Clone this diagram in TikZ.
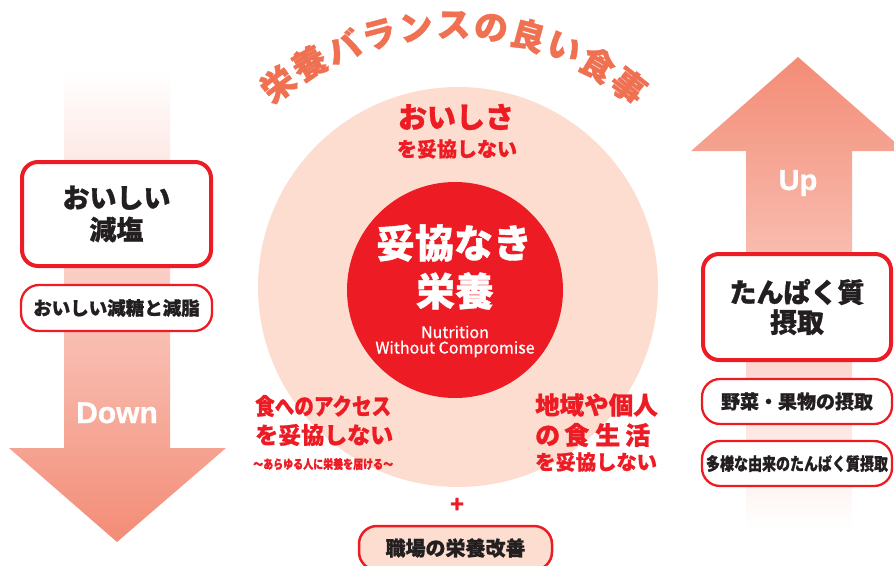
\documentclass[tikz,border=0pt]{standalone}
\usepackage{fontspec}
\usepackage{graphicx}
\newfontfamily\jp{Noto Sans CJK JP}[BoldFeatures={FakeBold=1}]
\newfontfamily\jpm{Noto Sans CJK JP}[FakeBold=0.8]
\newfontfamily\lat{Liberation Sans}[BoldFeatures={FakeBold=1}]
\definecolor{cred}{RGB}{237,28,36}
\definecolor{cpeach}{RGB}{252,221,207}
\definecolor{csalmon}{RGB}{243,140,118}
\definecolor{ctitle}{RGB}{240,112,82}
\definecolor{ctext}{RGB}{35,31,32}
\begin{document}
\begin{tikzpicture}[x=1pt,y=-1pt,
  bigbox/.style={draw=cred, line width=4pt, fill=white, rounded corners=16pt, minimum width=189pt, minimum height=104pt, inner sep=0pt, align=center, text=ctext, font=\jp\bfseries\fontsize{27}{32}\selectfont},
  smallbox/.style={draw=cred, line width=2.3pt, fill=white, rounded corners=18pt, minimum width=191pt, minimum height=46pt, inner sep=0pt, text=ctext, font=\jp\bfseries\fontsize{19}{22}\selectfont},
  titlech/.style={inner sep=0pt, text=ctitle, font=\jp\bfseries\fontsize{34}{34}\selectfont},
  redtxt/.style={inner sep=0pt, text=cred, font=\jp\bfseries},
  arrowtxt/.style={inner sep=0pt, text=white, font=\lat\bfseries\fontsize{30}{30}\selectfont, anchor=base},
  whitetxt/.style={inner sep=0pt, text=white}
]
\useasboundingbox (0,0) rectangle (894,565);
\clip (0,0) rectangle (894,565);

% arrows
\shade[top color=white, bottom color=csalmon]
  (64,70) -- (170,70) -- (170,448) -- (226,448) -- (117,542) -- (9,448) -- (64,448) -- cycle;
\shade[top color=csalmon, bottom color=white]
  (746,530) -- (852,530) -- (852,151) -- (905,151) -- (798,57) -- (691,151) -- (746,151) -- cycle;
\node[arrowtxt] (down) at (117,423) {Down};
\node[arrowtxt, font=\lat\bfseries\fontsize{29}{29}\selectfont] (up) at (798,190) {Up};

% circles
\node[circle, fill=cpeach, minimum size=400pt, inner sep=0pt] (bigc) at (458,287) {};
\node[circle, fill=cred, minimum size=216pt, inner sep=0pt] (core) at (455,290) {};

% title on arc
\foreach \ch [count=\i from 0] in {栄,養,バ,ラ,ン,ス,の,良,い,食,事} {
  \pgfmathsetmacro\ang{127.4-7.54*\i}
  \pgfmathsetmacro\rot{\ang-90}
  \node[titlech, rotate=\rot] (t\i) at ({452+287*cos(\ang)},{312-287*sin(\ang)}) {\ch};
}

% core text
\node[whitetxt, font=\jp\bfseries\fontsize{39}{39}\selectfont] (core1) at (454,243) {妥協なき};
\node[whitetxt, font=\jp\bfseries\fontsize{39}{39}\selectfont] (core2) at (455,291) {栄養};
\node[whitetxt, font=\jpm\fontsize{16}{16}\selectfont] (core3) at (455,332) {Nutrition};
\node[whitetxt, font=\jpm\fontsize{16}{16}\selectfont] (core4) at (455,349) {Without Compromise};

% top text
\node[redtxt, font=\jp\bfseries\fontsize{29}{29}\selectfont] (oishisa) at (456,117) {おいしさ};
\node[redtxt, font=\jp\bfseries\fontsize{20}{20}\selectfont] (oishisa2) at (457,149) {を妥協しない};

% bottom-left text
\node[redtxt, anchor=west] (acc1) at (255,406) {\scalebox{0.85}[1]{\fontsize{23}{23}\selectfont 食へのアクセス}};
\node[redtxt, anchor=west, font=\jp\bfseries\fontsize{23}{23}\selectfont] (acc2) at (255,435) {を妥協しない};
\node[redtxt, anchor=west] (acc3) at (253,464) {\scalebox{0.8}[1]{\fontsize{12.5}{12.5}\selectfont ～あらゆる人に栄養を届ける～}};

% bottom-right text
\node[redtxt, anchor=west, font=\jp\bfseries\fontsize{24.5}{24.5}\selectfont] (loc1) at (535,405) {地域や個人};
\node[redtxt, anchor=west, font=\jp\bfseries\fontsize{25}{25}\selectfont] (loc2) at (535,435) {の\hspace{4pt}食\hspace{6pt}生\hspace{5pt}活};
\node[redtxt, anchor=west, font=\jp\bfseries\fontsize{20.3}{20.3}\selectfont] (loc3) at (535,462) {を妥協しない};

% plus and workplace box
\node[inner sep=0pt, text=cred, font=\lat\bfseries\fontsize{24}{24}\selectfont] (plus) at (457,505) {+};
\node[draw=cred, line width=2.5pt, fill=cpeach, rounded corners=18pt, minimum width=193pt, minimum height=44pt, inner sep=0pt, text=ctext, font=\jp\bfseries\fontsize{20}{20}\selectfont] (work) at (455.5,548) {職場の栄養改善};

% left boxes
\node[bigbox] (salt) at (116.5,214) {おいしい\\減塩};
\node[smallbox, font=\jp\bfseries\fontsize{18.5}{20}\selectfont] (sugar) at (116.5,308) {おいしい減糖と減脂};

% right boxes
\node[bigbox, minimum width=188pt, minimum height=106pt, font=\jp\bfseries\fontsize{27}{30}\selectfont] (prot) at (797,307) {たんぱく質\\摂取};
\node[smallbox, minimum width=190pt, minimum height=45pt] (veg) at (797,401.5) {野菜・果物の摂取};
\node[smallbox, minimum width=190pt, minimum height=45pt] (var) at (797,463.5) {\scalebox{0.8}[1]{\fontsize{17.5}{17.5}\selectfont 多様な由来のたんぱく質摂取}};
\end{tikzpicture}
\end{document}
